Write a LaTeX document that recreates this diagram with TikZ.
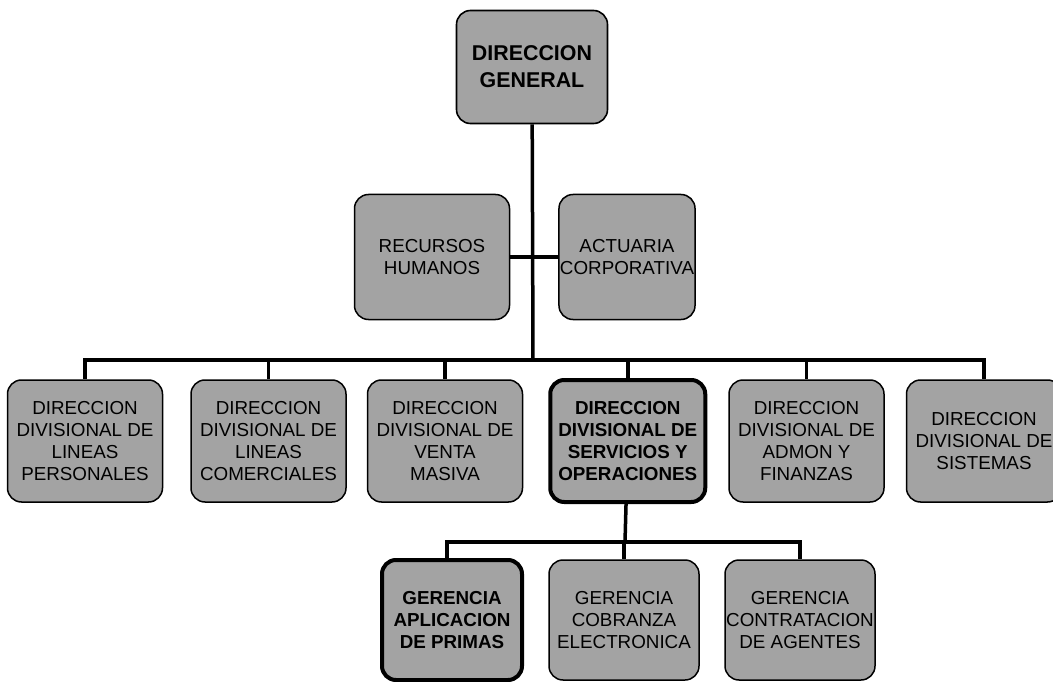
\documentclass[tikz,border=0pt]{standalone}
\usepackage{fontspec}
\setmainfont{Liberation Sans}
\usepackage{tikz}
\usetikzlibrary{positioning}
\definecolor{boxgray}{gray}{0.64}

\begin{document}
\begin{tikzpicture}[
  x=1pt, y=-1pt,
  node distance=23pt,
  every node/.style={font=\fontsize{18.8}{21.7}\selectfont, align=center},
  unit/.style={rectangle, rounded corners=14pt, draw, line width=1.5pt, fill=boxgray, inner sep=1pt, minimum width=155pt, minimum height=122pt},
  boss/.style={unit, line width=4pt, font=\fontsize{18.8}{21.7}\selectfont\bfseries},
  mgr/.style={unit, minimum width=150pt, minimum height=120pt},
  link/.style={line width=3.5pt}
  ]

\useasboundingbox (0,0) rectangle (1053,682);

\node[unit, line width=1.6pt, minimum width=151pt, minimum height=113pt, font=\fontsize{21.4}{27}\selectfont\bfseries] (dg) at (532,67) {DIRECCION\\GENERAL};

\node[unit, minimum height=125pt] (rh) at (432,257) {RECURSOS\\HUMANOS};
\node[unit, minimum height=125pt, minimum width=135pt] (act) at (627,257) {ACTUARIA\\CORPORATIVA};

\node[unit] (lp) at (85,441) {DIRECCION\\DIVISIONAL DE\\LINEAS\\PERSONALES};
\node[unit, right=27pt of lp] (lc) {DIRECCION\\DIVISIONAL DE\\LINEAS\\COMERCIALES};
\node[unit, right=20pt of lc] (vm) {DIRECCION\\DIVISIONAL DE\\VENTA\\MASIVA};
\node[boss, right=25pt of vm] (so) {DIRECCION\\DIVISIONAL DE\\SERVICIOS Y\\OPERACIONES};
\node[unit, right=21pt of so] (af) {DIRECCION\\DIVISIONAL DE\\ADMON Y\\FINANZAS};
\node[unit, right=21pt of af] (si) {DIRECCION\\DIVISIONAL DE\\SISTEMAS};

\node[mgr, line width=4pt, font=\fontsize{18.8}{21.7}\selectfont\bfseries, minimum width=140pt] (ap) at (452,620) {GERENCIA\\APLICACION\\DE PRIMAS};
\node[mgr] (ce) at (624,620) {GERENCIA\\COBRANZA\\ELECTRONICA};
\node[mgr] (ca) at (800,620) {GERENCIA\\CONTRATACION\\DE AGENTES};

\coordinate (bus) at (533,360);
\coordinate (subbus) at (625,542);

\draw[link] (dg) -- (bus);
\draw[link] (rh) -- (act);
\foreach \n in {lp,lc,vm,so,af,si}
  \draw[link] (bus) -| (\n);
\draw[link] (so) -- (subbus);
\draw[link] (subbus) -| (ap.north -| 447,0);
\draw[link] (subbus) -| (ce);
\draw[link] (subbus) -| (ca);

\end{tikzpicture}
\end{document}
